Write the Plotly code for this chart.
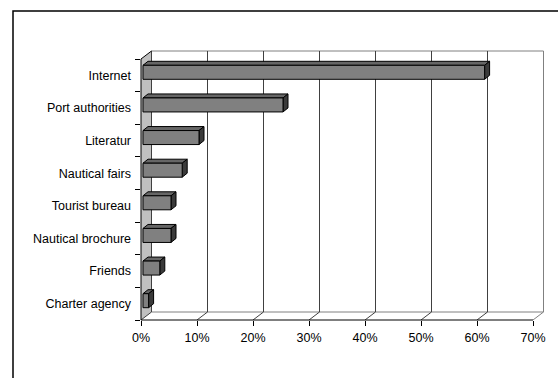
import plotly.graph_objects as go

# ---- data (top to bottom as in the chart) ----
categories = ["Internet", "Port authorities", "Literatur", "Nautical fairs",
              "Tourist bureau", "Nautical brochure", "Friends", "Charter agency"]
values = [61, 25, 10, 7, 5, 5, 3, 1]
x_ticks = [0, 10, 20, 30, 40, 50, 60, 70]
x_ticktext = [f"{t}%" for t in x_ticks]

# ---- layout constants (pixels) ----
W, H = 558, 378
L, R, T, B = 141, 545, 49, 320
PX_PCT = 5.6          # pixels per 1 %
PX_CAT = 32.625       # pixels per category
DX, DY = 10.5 / PX_PCT, 8 / PX_CAT        # wall depth in data units
OX, OY = 2.0 / PX_PCT, 3 / PX_CAT         # bar offset into depth
BDX, BDY = 5 / PX_PCT, 4 / PX_CAT         # bar depth
BW = 14 / PX_CAT                          # bar thickness
XMAX = x_ticks[-1]
n = len(categories)

XR = [0, (R - L) / PX_PCT]
YR = [-0.5, -0.5 + (B - T) / PX_CAT]

def fx(v):
    return (v - XR[0]) / (XR[1] - XR[0])

def fy(v):
    return (v - YR[0]) / (YR[1] - YR[0])

ybot, ytop = -0.5, n - 0.5
shapes = []
GRID = "#404040"
EDGE = "#808080"

# floor
shapes.append(dict(type="path", layer="below", xref="x", yref="y",
                   path=f"M 0,{ybot} L {XMAX},{ybot} L {XMAX+DX},{ybot+DY} L {DX},{ybot+DY} Z",
                   fillcolor="white", line=dict(width=0)))
# back wall
shapes.append(dict(type="rect", layer="below", xref="x", yref="y",
                   x0=DX, x1=XMAX + DX, y0=ybot + DY, y1=ytop + DY,
                   fillcolor="white", line=dict(color=EDGE, width=1)))
# left wall
shapes.append(dict(type="path", layer="below", xref="x", yref="y",
                   path=f"M 0,{ybot} L {DX},{ybot+DY} L {DX},{ytop+DY} L 0,{ytop} Z",
                   fillcolor="#c0c0c0", line=dict(width=0)))
# back gridlines
for t in x_ticks[:-1]:
    shapes.append(dict(type="line", layer="below", xref="x", yref="y",
                       x0=t + DX, x1=t + DX, y0=ybot + DY, y1=ytop + DY,
                       line=dict(color=GRID, width=1)))
# floor diagonals
for t in x_ticks:
    shapes.append(dict(type="line", layer="below", xref="x", yref="y",
                       x0=t, x1=t + DX, y0=ybot, y1=ybot + DY,
                       line=dict(color=GRID if t < XMAX else EDGE, width=1)))

# bar top and side faces
for i, (c, v) in enumerate(zip(categories, values)):
    k = n - 1 - i
    y0 = k + OY - BW / 2
    y1 = k + OY + BW / 2
    xs, xe = OX, OX + v
    shapes.append(dict(type="path", layer="below", xref="x", yref="y",
                       path=f"M {xs},{y1} L {xe},{y1} L {xe+BDX},{y1+BDY} L {xs+BDX},{y1+BDY} Z",
                       fillcolor="#666666", line=dict(color="black", width=1)))
    shapes.append(dict(type="path", layer="below", xref="x", yref="y",
                       path=f"M {xe},{y0} L {xe},{y1} L {xe+BDX},{y1+BDY} L {xe+BDX},{y0+BDY} Z",
                       fillcolor="#3a3a3a", line=dict(color="black", width=1)))

# front edges (paper coords so they are not clipped)
shapes.append(dict(type="line", xref="paper", yref="paper",
                   x0=fx(0), x1=fx(XMAX), y0=fy(ybot), y1=fy(ybot),
                   line=dict(color="black", width=1)))
shapes.append(dict(type="line", xref="paper", yref="paper",
                   x0=fx(0), x1=fx(0), y0=fy(ybot), y1=fy(ytop),
                   line=dict(color="black", width=1)))
shapes.append(dict(type="line", xref="paper", yref="paper",
                   x0=fx(0), x1=fx(DX), y0=fy(ytop), y1=fy(ytop + DY),
                   line=dict(color="black", width=1)))

# outer chart border
pw, ph = R - L, B - T
shapes.append(dict(type="rect", xref="paper", yref="paper",
                   x0=(13 - L) / pw, x1=(W + 20 - L) / pw,
                   y0=(B - (H + 20)) / ph, y1=(B - 11) / ph,
                   line=dict(color="black", width=1.5), fillcolor="rgba(0,0,0,0)"))

fig = go.Figure(go.Bar(
    y=categories, x=values, orientation="h",
    base=OX, width=BW, offset=OY - BW / 2,
    marker=dict(color="#808080", line=dict(color="black", width=1)),
    hovertemplate="%{y}: %{x}%<extra></extra>",
))

font = dict(family="Liberation Sans, Arial, sans-serif", size=12.5, color="black")
fig.update_layout(
    width=W, height=H, autosize=False,
    margin=dict(l=L, r=W - R, t=T, b=H - B, pad=0),
    paper_bgcolor="white", plot_bgcolor="white",
    showlegend=False, font=font, shapes=shapes,
    xaxis=dict(range=XR, tickvals=x_ticks, ticktext=x_ticktext,
               showgrid=False, zeroline=False, showline=False,
               ticks="outside", ticklen=5, tickcolor="black", tickwidth=1,
               tickfont=font, fixedrange=True, ticklabelstandoff=1),
    yaxis=dict(type="category", categoryorder="array",
               categoryarray=list(reversed(categories)),
               range=YR, tickson="boundaries",
               showgrid=False, zeroline=False, showline=False,
               ticks="outside", ticklen=5, tickcolor="black", tickwidth=1,
               tickfont=font, fixedrange=True, ticklabelstandoff=9),
)

fig.write_html("out.html", config={"displayModeBar": False})
